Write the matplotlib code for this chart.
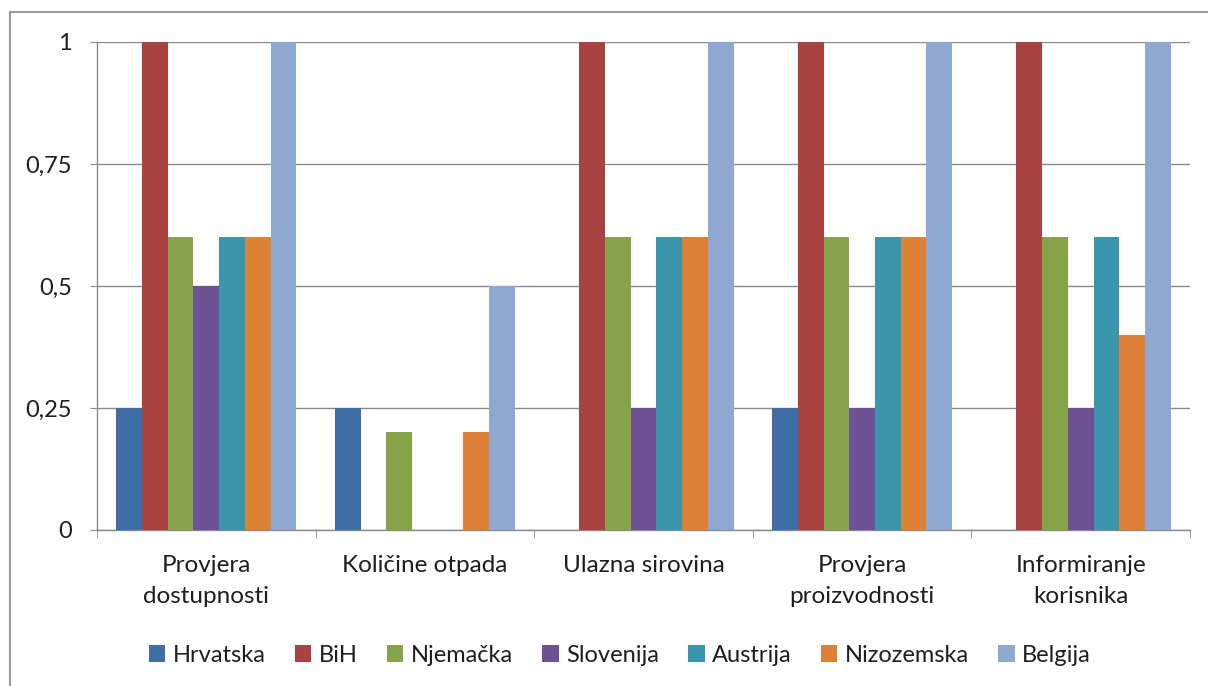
import matplotlib
matplotlib.use("Agg")
import matplotlib.pyplot as plt
import numpy as np
from matplotlib.patches import Rectangle

categories = ["Provjera\ndostupnosti", "Količine otpada", "Ulazna sirovina",
              "Provjera\nproizvodnosti", "Informiranje\nkorisnika"]
series_names = ["Hrvatska", "BiH", "Njemačka", "Slovenija", "Austrija", "Nizozemska", "Belgija"]
hrvatska   = [0.25, 0.25, 0.0, 0.25, 0.0]
bih        = [1.0, 0.0, 1.0, 1.0, 1.0]
njemacka   = [0.6, 0.2, 0.6, 0.6, 0.6]
slovenija  = [0.5, 0.0, 0.25, 0.25, 0.25]
austrija   = [0.6, 0.0, 0.6, 0.6, 0.6]
nizozemska = [0.6, 0.2, 0.6, 0.6, 0.4]
belgija    = [1.0, 0.5, 1.0, 1.0, 1.0]
yticks = [0, 0.25, 0.5, 0.75, 1]
ytick_labels = ["0", "0,25", "0,5", "0,75", "1"]

series = [hrvatska, bih, njemacka, slovenija, austrija, nizozemska, belgija]
colors = ["#3F6EA7", "#A94342", "#86A34A", "#6E5192", "#3A95AD", "#DD8136", "#8EA8D2"]

plt.rcParams['font.family'] = ['Lato', 'DejaVu Sans']
W, H = 1208, 686
fig = plt.figure(figsize=(W/100, H/100), dpi=100)
fig.patch.set_facecolor("white")

# outer chart border
fig.patches.append(Rectangle((10/W, -0.2), 1.5, 1.2 - 12/H, transform=fig.transFigure,
                             fill=False, edgecolor="#9a9a9a", linewidth=1.5))

ax = fig.add_axes([97/W, 1 - 530/H, (1190-97)/W, (530-42)/H])
n = len(series)
bw = (7/(7+1.5))/n
x = np.arange(len(categories))
for i, (vals, c, name) in enumerate(zip(series, colors, series_names)):
    ax.bar(x + (i - (n-1)/2)*bw, vals, width=bw, color=c, label=name, zorder=3)

ax.set_xlim(-0.5, len(categories) - 0.5)
ax.set_ylim(0, 1)
ax.set_yticks(yticks)
ax.set_yticklabels(ytick_labels)
ax.yaxis.grid(True, color="#8a8a8a", linewidth=1.0, zorder=0)
ax.set_xticks(x)
ax.set_xticklabels(categories, linespacing=1.6)
ax.set_xticks(np.arange(-0.5, len(categories), 1.0), minor=True)
ax.tick_params(axis="x", which="major", length=0, pad=18, labelsize=17.5, colors="#1e1e1e")
ax.tick_params(axis="x", which="minor", length=6, color="#8a8a8a", direction="out")
ax.tick_params(axis="y", length=5, color="#8a8a8a", pad=13, labelsize=17, labelcolor="#1e1e1e")
for s in ["top", "right"]:
    ax.spines[s].set_visible(False)
for s in ["left", "bottom"]:
    ax.spines[s].set_color("#8a8a8a")
    ax.spines[s].set_linewidth(1.0)

handles, labels = ax.get_legend_handles_labels()
fig.legend(handles, labels, loc="center", bbox_to_anchor=(0.513, 1 - 655/H), ncol=7,
           frameon=False, fontsize=17, handlelength=0.7, handleheight=0.7,
           handletextpad=0.3, columnspacing=1.25, labelcolor="#1e1e1e")

fig.savefig("out.png", dpi=100, facecolor="white")
